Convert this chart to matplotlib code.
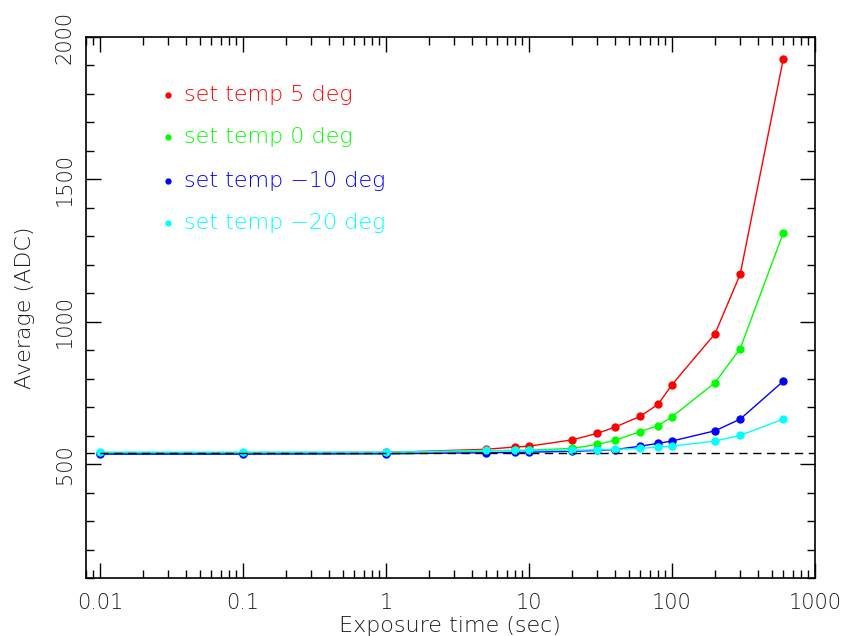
"""Dark level vs exposure time for several set temperatures."""
import numpy as np
import matplotlib
matplotlib.use("Agg")
import matplotlib.pyplot as plt
from matplotlib.ticker import FixedLocator, NullFormatter

exptime = [0.01, 0.1, 1, 5, 8, 10, 20, 30, 40, 60, 80, 100, 200, 300, 600]

avg_5deg = [539, 540, 541, 552, 560, 563, 585, 608, 630, 668, 710, 779, 958, 1167, 1923]
avg_0deg = [538, 539, 540, 546, 548, 549, 555, 569, 584, 614, 635, 666, 786, 906, 1312]
avg_m10deg = [535, 535, 536, 540, 541, 542, 545, 548, 551, 563, 573, 581, 617, 658, 791]
avg_m20deg = [542, 542, 542, 548, 548, 548, 549, 550, 552, 555, 560, 563, 581, 601, 658]

series = [
    ("set temp 5 deg", avg_5deg, "#ff0000"),
    ("set temp 0 deg", avg_0deg, "#00ff00"),
    ("set temp \u221210 deg", avg_m10deg, "#0000ff"),
    ("set temp \u221220 deg", avg_m20deg, "#00ffff"),
]
bias_level = 538

TXT = "#1a1a1a"

fig = plt.figure(figsize=(8.43, 6.36), dpi=100)
ax = fig.add_axes([0.102, 0.0912, 0.8648, 0.8506])

for label, vals, col in series:
    ax.plot(exptime, vals, "-", color=col, lw=1.0, marker="o", ms=5, mec=col, mfc=col)

ax.axhline(bias_level, color="black", lw=1.0, ls=(0, (6, 4)))

ax.set_xscale("log")
ax.set_xlim(0.008, 1000)
ax.set_ylim(100, 2000)

ax.set_xticks([0.01, 0.1, 1, 10, 100, 1000])
ax.set_xticklabels(["0.01", "0.1", "1", "10", "100", "1000"])
ax.xaxis.set_minor_locator(FixedLocator(
    [m * 10.0 ** e for e in range(-3, 3) for m in range(2, 10)]))
ax.xaxis.set_minor_formatter(NullFormatter())
ax.set_yticks([500, 1000, 1500, 2000])
ax.yaxis.set_minor_locator(FixedLocator(np.arange(100, 2001, 100)))

ax.tick_params(which="both", direction="in", top=True, right=True,
               labelsize=15, colors="black", labelcolor=TXT)
ax.tick_params(which="major", length=11, width=1.0)
ax.tick_params(which="minor", length=6, width=1.0)
ax.tick_params(axis="x", pad=11)
ax.tick_params(axis="y", pad=8)
for t in ax.get_yticklabels():
    t.set_rotation(90)
    t.set_va("center")
    t.set_fontweight("light")
for t in ax.get_xticklabels():
    t.set_fontweight("light")

for s in ax.spines.values():
    s.set_linewidth(1.2)

ax.set_xlabel("Exposure time (sec)", fontsize=16, color=TXT, labelpad=2,
              fontweight="light")
ax.set_ylabel("Average (ADC)", fontsize=16, color=TXT, labelpad=14,
              fontweight="light")

# key: coloured dot plus text
rows_y = [0.893, 0.815, 0.734, 0.656]
for (label, vals, col), yy in zip(series, rows_y):
    ax.plot([0.1125], [yy], "o", color=col, ms=3.5, transform=ax.transAxes, clip_on=False)
    ax.text(0.134, yy, label, color=col, fontsize=16, va="center", ha="left",
            fontweight="light", transform=ax.transAxes)

fig.savefig("out.png", dpi=100)
plt.close(fig)
